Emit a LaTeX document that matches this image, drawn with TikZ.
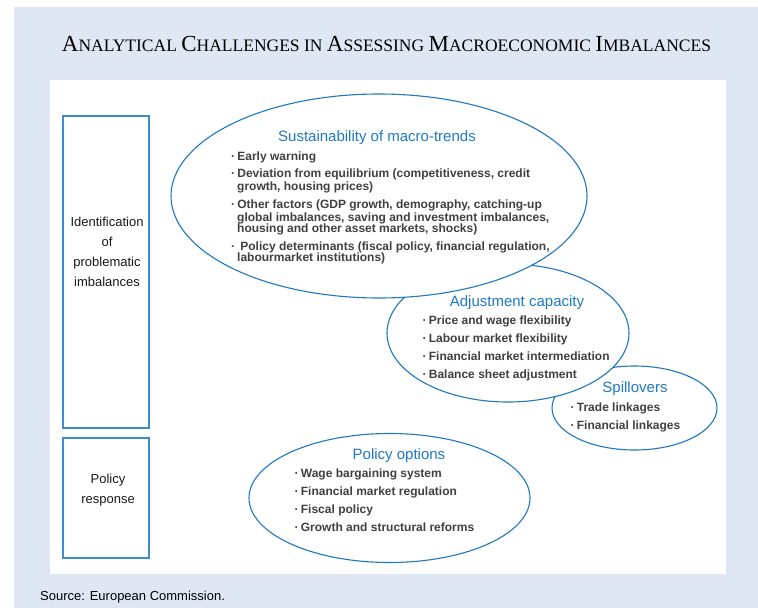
\documentclass[tikz,border=0pt]{standalone}
\usepackage{fontspec}
\setmainfont{Liberation Sans}
\newfontfamily\serifttl{Liberation Serif}
\usetikzlibrary{shapes.geometric}
\definecolor{bgblue}{HTML}{E0E7F4}
\definecolor{lineblue}{HTML}{1F78C0}
\definecolor{boxblue}{HTML}{3A8ED0}
\definecolor{ttlblue}{HTML}{1F7AC4}
\definecolor{itemgray}{HTML}{404040}
\newcommand\BC[1]{{\fontsize{23}{23}\selectfont #1}}
\newcommand\SC[1]{{\fontsize{17.5}{17.5}\selectfont #1}}
\newcommand\bul{·\hspace{2.2pt}}
\begin{document}
\begin{tikzpicture}[x=1pt,y=-1pt,
  bubble/.style={ellipse, draw=lineblue, line width=1.1pt, fill=white, inner sep=0pt},
  sidebox/.style={draw=boxblue, line width=1.6pt, fill=white, inner sep=0pt},
  boxlabel/.style={align=center, text=black!90, font=\fontsize{13}{20}\selectfont, inner sep=0pt},
  bubtitle/.style={anchor=base, text=ttlblue, font=\fontsize{15}{15}\selectfont, inner sep=0pt},
  item/.style={anchor=base west, text=itemgray, font=\fontsize{12}{12}\selectfont\bfseries, inner sep=0pt}
]
\useasboundingbox (0,0) rectangle (758,608);
\fill[bgblue] (14,7) rectangle (758,608);
\fill[white] (50,80) rectangle (726,574);

\node[anchor=base, inner sep=0pt, font=\serifttl\fontsize{17.5}{17.5}\selectfont] (title) at (386.5,51)
  {\BC{A}\SC{NALYTICAL} \BC{C}\SC{HALLENGES} \SC{IN} \BC{A}\SC{SSESSING} \BC{M}\SC{ACROECONOMIC} \BC{I}\SC{MBALANCES}};

% side boxes
\node[sidebox, minimum width=86pt, minimum height=312pt] (ident) at (106,272) {};
\node[boxlabel] (identlab) at (107,251.5) {Identification\\of\\problematic\\imbalances};
\node[sidebox, minimum width=86pt, minimum height=120pt] (resp) at (106,498) {};
\node[boxlabel] (resplab) at (108,490) {Policy\\response};

% bubbles (back to front)
\node[bubble, minimum width=165pt, minimum height=84pt] (spill) at (634.5,408) {};
\node[bubble, minimum width=242pt, minimum height=138pt] (adj) at (508,333) {};
\node[bubble, minimum width=416pt, minimum height=204pt] (sust) at (379,196) {};
\node[bubble, minimum width=281pt, minimum height=129pt] (pol) at (389.5,498) {};

% Sustainability
\node[bubtitle] (sustT) at (377,141) {Sustainability of macro-trends};
\node[item] (s1) at (231,160) {\bul Early warning};
\node[item] (s2) at (231,177) {\bul Deviation from equilibrium (competitiveness, credit};
\node[item] (s3) at (237,190) {growth, housing prices)};
\node[item] (s4) at (231,208) {\bul Other factors (GDP growth, demography, catching-up};
\node[item] (s5) at (237,221) {global imbalances, saving and investment imbalances,};
\node[item] (s6) at (237,232) {housing and other asset markets, shocks)};
\node[item] (s7) at (231,250) {\bul\hspace{3pt}Policy determinants (fiscal policy, financial regulation,};
\node[item] (s8) at (237,261) {labourmarket institutions)};

% Adjustment
\node[bubtitle] (adjT) at (517,306) {Adjustment capacity};
\node[item] (a1) at (422.5,324) {\bul Price and wage flexibility};
\node[item] (a2) at (422.5,342) {\bul Labour market flexibility};
\node[item] (a3) at (422.5,360) {\bul Financial market intermediation};
\node[item] (a4) at (422.5,378) {\bul Balance sheet adjustment};

% Spillovers
\node[bubtitle] (spillT) at (635,392) {Spillovers};
\node[item] (p1) at (570.5,411) {\bul Trade linkages};
\node[item] (p2) at (570.5,429) {\bul Financial linkages};

% Policy options
\node[bubtitle] (polT) at (399,459) {Policy options};
\node[item] (o1) at (294.5,477) {\bul Wage bargaining system};
\node[item] (o2) at (294.5,495) {\bul Financial market regulation};
\node[item] (o3) at (294.5,513) {\bul Fiscal policy};
\node[item] (o4) at (294.5,531) {\bul Growth and structural reforms};

\node[anchor=base west, inner sep=0pt, font=\fontsize{13}{13}\selectfont] (src) at (40,600.5) {Source: European Commission.};
\end{tikzpicture}
\end{document}
